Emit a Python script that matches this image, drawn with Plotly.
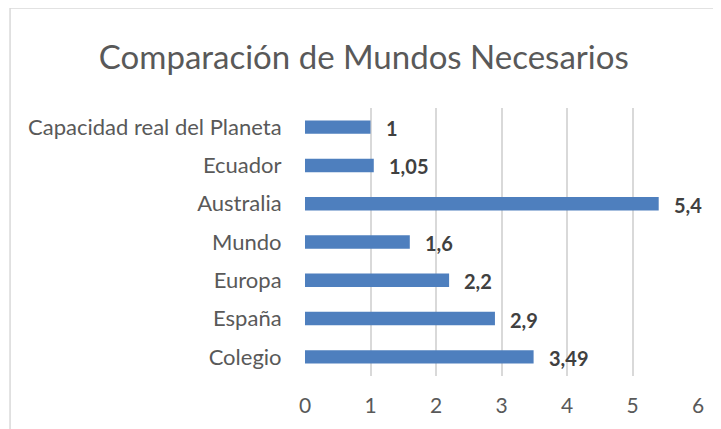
import plotly.graph_objects as go

categories = ["Capacidad real del Planeta", "Ecuador", "Australia", "Mundo", "Europa", "España", "Colegio"]
values = [1, 1.05, 5.4, 1.6, 2.2, 2.9, 3.49]
value_labels = ["1", "1,05", "5,4", "1,6", "2,2", "2,9", "3,49"]
x_ticks = [0, 1, 2, 3, 4, 5, 6]

FONT = "Lato, Open Sans, sans-serif"

fig = go.Figure()
fig.add_trace(go.Bar(
    x=values, y=categories, orientation="h",
    marker=dict(color="#4E7FBE", line=dict(width=0)),
    width=0.35, hoverinfo="skip",
))

for v, c, t in zip(values, categories, value_labels):
    fig.add_annotation(x=v, y=c, text=f"<b>{t}</b>", showarrow=False,
                       xanchor="left", xshift=13, yshift=-1,
                       font=dict(family=FONT, size=20, color="#404040"))

fig.add_shape(type="rect", xref="paper", yref="paper",
              x0=-0.7505, x1=1.3, y0=-0.4, y1=1.373,
              line=dict(color="#D9D9D9", width=1.5), layer="below")

# page body has an 8px margin, so the figure is offset by 8px
fig.update_layout(
    width=713, height=421,
    margin=dict(l=296.5, r=23, t=100, b=49),
    paper_bgcolor="white", plot_bgcolor="white",
    showlegend=False,
    title=dict(text="Comparación de Mundos Necesarios", x=0.499, xref="container",
               y=1 - 49 / 421, yanchor="middle", xanchor="center",
               font=dict(family=FONT, size=33, color="#595959")),
    xaxis=dict(range=[0, 6], tickvals=x_ticks, showgrid=True, gridcolor="#D9D9D9",
               gridwidth=1.5, zeroline=False, showline=False,
               ticks="outside", ticklen=11, tickcolor="rgba(0,0,0,0)",
               tickfont=dict(family=FONT, size=21, color="#595959"), fixedrange=True),
    yaxis=dict(categoryorder="array", categoryarray=categories, autorange="reversed",
               showgrid=False, zeroline=False, showline=False,
               ticks="outside", ticklen=18, tickcolor="rgba(0,0,0,0)",
               tickfont=dict(family=FONT, size=22, color="#595959"), fixedrange=True),
)

fig.write_html("out.html")
